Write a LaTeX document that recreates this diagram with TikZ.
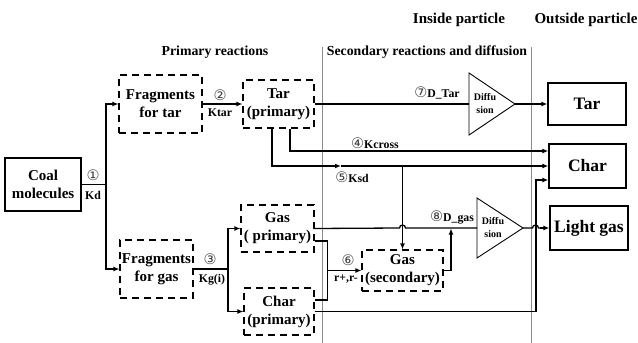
\documentclass[tikz,border=0pt]{standalone}
\usepackage{fontspec}
\setmainfont{Liberation Serif}
\newfontfamily\cfont{DejaVu Sans}
\usetikzlibrary{arrows.meta,calc}
\newcommand\boxfont{\fontsize{15}{18}\selectfont\bfseries}
\newcommand\outfont{\fontsize{17.5}{20}\selectfont\bfseries}
\newcommand\lblfont{\fontsize{11.8}{13}\selectfont\bfseries}
\newcommand\headfont{\fontsize{13.8}{16}\selectfont\bfseries}
\newcommand\hfontb{\fontsize{15}{17}\selectfont\bfseries}
\newcommand\difffont{\fontsize{10}{13}\selectfont\bfseries}
\newcommand\cnum[1]{{\cfont\mdseries\fontsize{14.5}{13}\selectfont\color{black!75}#1}}
\tikzset{
  solidbox/.style={draw, line width=1.4pt, align=center, inner sep=0pt},
  dashbox/.style={draw, line width=1.1pt, dash pattern=on 7pt off 5pt, align=center, inner sep=0pt, font=\boxfont},
  conn/.style={line width=1.3pt},
  arr/.style={conn, -{Latex[length=6pt,width=5pt]}},
  lbl/.style={font=\lblfont, inner sep=0pt},
  head/.style={font=\headfont, inner sep=0pt},
  sep/.style={draw=black!45, line width=0.8pt},
}
\begin{document}
\begin{tikzpicture}[x=1pt,y=-1pt]
\useasboundingbox (0,0) rectangle (638,343);
% headings
\node[head] (hprim) at (215,52) {Primary reactions};
\node[head] (hsec) at (427,52) {Secondary reactions and diffusion};
\node[head, font=\hfontb] (hin) at (459,20) {Inside particle};
\node[head, font=\hfontb] (hout) at (586,20) {Outside particle};
% separators
\coordinate (s1t) at (322,47); \coordinate (s1b) at (322,343);
\coordinate (s2t) at (531,47); \coordinate (s2b) at (531,343);
\draw[sep] (s1t) -- (s1b);
\draw[sep] (s2t) -- (s2b);
% boxes
\node[solidbox, font=\boxfont, minimum width=76pt, minimum height=53pt] (coal) at (43,184.5) {Coal\\molecules};
\node[dashbox, minimum width=83pt, minimum height=58pt] (fragtar) at (160.5,104) {Fragments\\for tar};
\node[dashbox, minimum width=71pt, minimum height=48pt] (tarp) at (278.5,104) {Tar\\(primary)};
\node[dashbox, minimum width=73pt, minimum height=58pt] (fraggas) at (156.5,269) {Fragments\\for gas};
\node[dashbox, minimum width=73pt, minimum height=47pt] (gasp) at (277.5,228.5) {Gas\\( primary)};
\node[dashbox, minimum width=70pt, minimum height=47pt] (charp) at (279,311.5) {Char\\(primary)};
\node[dashbox, minimum width=81pt, minimum height=41pt] (gass) at (402.5,270.5) {Gas\\(secondary)};
\node[solidbox, font=\outfont, minimum width=78pt, minimum height=42pt] (tarout) at (587,104) {Tar};
\node[solidbox, font=\outfont, minimum width=77pt, minimum height=44pt] (charout) at (587.5,166) {Char};
\node[solidbox, font=\outfont, minimum width=78pt, minimum height=44pt] (lgas) at (589,228) {Light gas};
% diffusion triangles
\coordinate (d1in) at (469,104); \coordinate (d1out) at (515,104);
\draw[line width=0.9pt] (469,73) -- (d1out) -- (469,135) -- cycle;
\node[font=\difffont, align=center, inner sep=0pt] (d1txt) at (485,104) {Diffu\\sion};
\coordinate (d2in) at (477,228); \coordinate (d2out) at (523,228);
\draw[line width=0.9pt] (477,198) -- (d2out) -- (477,258) -- cycle;
\node[font=\difffont, align=center, inner sep=0pt] (d2txt) at (493,228) {Diffu\\sion};
% reaction 1
\coordinate (b1) at (106,184.5);
\draw[conn] (coal.east) -- (b1);
\draw[arr] (b1) |- (fragtar.west);
\draw[arr] (b1) |- (fraggas.west);
\node[lbl] (l1a) at (93,175) {\cnum{①}};
\node[lbl] (l1b) at (93,195) {Kd};
% reaction 2
\draw[arr] (fragtar.east) -- (tarp.west);
\node[lbl] (l2a) at (220,95) {\cnum{②}};
\node[lbl] (l2b) at (220,113) {Ktar};
% reaction 3
\coordinate (b3) at (228,269);
\draw[conn] (fraggas.east) -- (b3);
\draw[arr] (b3) |- (gasp.west);
\draw[arr] (b3) |- (charp.west);
\node[lbl] (l3a) at (210,259) {\cnum{③}};
\node[lbl] (l3b) at (212,280) {Kg(i)};
% tar diffusion
\draw[conn] (tarp.east) -- (d1in);
\draw[arr] (d1out) -- (tarout.west);
\node[lbl] (l7) at (437,93) {\cnum{⑦}D\_Tar};
% Kcross
\coordinate (k4a) at ($(tarp.south)+(11.5,0)$);
\coordinate (k4b) at ($(charout.west)+(0,-15)$);
\draw[arr] (k4a) |- (k4b);
\node[lbl] (l4) at (375,143) {\cnum{④}Kcross};
% Ksd
\coordinate (k5a) at ($(tarp.south)+(-6.5,0)$);
\coordinate (k5m) at (341,166);
\draw[arr] (k5a) |- (k5m);
\draw[arr] (k5m) -- (charout.west);
\node[lbl] (l5) at (352,177) {\cnum{⑤}Ksd};
\draw[arr] (gass.north |- charout.west) -- (gass.north);
% gas diffusion
\draw[conn] (gasp.east) -- (399.5,228) arc[start angle=180, end angle=360, radius=3] -- (d2in);
\node[lbl] (l8) at (452,217) {\cnum{⑧}D\_gas};
\draw[conn] (d2out) -- (532.5,228) arc[start angle=180, end angle=360, radius=3] -- (540,228);
\draw[arr] (540,228) -- (lgas.west);
% reaction 6
\coordinate (g6a) at ($(gasp.east)+(0,12.5)$);
\coordinate (g6b) at ($(charp.east)+(0,-11.5)$);
\coordinate (g6c) at ($(gasp.east)+(13,12.5)$);
\coordinate (g6d) at ($(charp.east)+(13,-11.5)$);
\draw[conn] (g6a) -- (g6c) -- (g6d) -- (g6b);
\draw[arr] (g6c |- gass.west) -- (gass.west);
\node[lbl] (l6a) at (348,260) {\cnum{⑥}};
\node[lbl] (l6b) at (346,279) {r+,r-};
\coordinate (g8) at (451,270.5);
\draw[conn] (gass.east) -- (g8);
\draw[arr] (g8) -- (g8 |- gasp.east);
% char to outside
\coordinate (c1) at (536,311.5);
\coordinate (c2) at ($(charout.west)+(0,14)$);
\draw[arr] (charp.east) -- (c1) |- (c2);
\end{tikzpicture}
\end{document}
